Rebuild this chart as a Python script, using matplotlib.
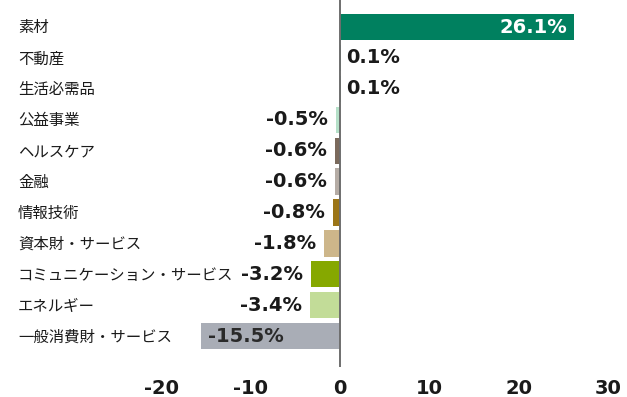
import matplotlib
matplotlib.use("Agg")
import matplotlib.pyplot as plt
from matplotlib.transforms import blended_transform_factory, offset_copy

plt.rcParams['font.family'] = ['Noto Sans CJK JP', 'DejaVu Sans']

sectors = ["素材", "不動産", "生活必需品", "公益事業", "ヘルスケア", "金融", "情報技術",
           "資本財・サービス", "コミュニケーション・サービス", "エネルギー", "一般消費財・サービス"]
returns = [26.1, 0.1, 0.1, -0.5, -0.6, -0.6, -0.8, -1.8, -3.2, -3.4, -15.5]
colors = ["#00805f", "#1f7a55", "#3f8a62", "#b5e0c8", "#7b6a5c", "#b5aca5", "#9b7518",
          "#cdb68a", "#86a800", "#c2dc98", "#a9adb6"]
xticks = [-20, -10, 0, 10, 20, 30]

W, H = 627, 397
fig = plt.figure(figsize=(W / 100, H / 100), dpi=100)
ax = fig.add_axes([0, 30 / H, 1, 367 / H])

ypos = list(range(len(sectors)))
ax.barh(ypos, returns, height=0.85, color=colors, edgecolor="none", zorder=2)
ax.axvline(0, color="#6e6e6e", lw=1.4, zorder=3)

ax.set_xlim(-38.0, 32.07)
ax.set_ylim(11.0, -0.874)
ax.set_yticks([])
ax.set_xticks(xticks)
ax.set_xticklabels([str(t) for t in xticks], fontfamily="DejaVu Sans",
                   fontweight="bold", fontsize=14, color="#1a1a1a")
ax.tick_params(axis="x", length=0, pad=9)
for s in ax.spines.values():
    s.set_visible(False)

# sector names down the left side
lab_tr = blended_transform_factory(fig.transFigure, ax.transData)
for y, name in zip(ypos, sectors):
    ax.text(18 / W, y + 0.03, name, transform=lab_tr, ha="left", va="center",
            fontsize=11.1, color="#1a1a1a")

# value labels
num_kw = dict(fontfamily="DejaVu Sans", fontweight="bold", fontsize=14, va="center")
for y, v in zip(ypos, returns):
    txt = f"{v:.1f}%"
    if v >= 10:
        tr = offset_copy(ax.transData, fig=fig, x=-6, y=0, units="dots")
        ax.text(v, y, txt, transform=tr, ha="right", color="white", **num_kw)
    elif v > 0:
        tr = offset_copy(ax.transData, fig=fig, x=5, y=0, units="dots")
        ax.text(v, y, txt, transform=tr, ha="left", color="#1a1a1a", **num_kw)
    elif v <= -10:
        tr = offset_copy(ax.transData, fig=fig, x=7, y=0, units="dots")
        ax.text(v, y, txt, transform=tr, ha="left", color="#2a2a2a", **num_kw)
    else:
        tr = offset_copy(ax.transData, fig=fig, x=-8, y=0, units="dots")
        ax.text(v, y, txt, transform=tr, ha="right", color="#1a1a1a", **num_kw)

fig.savefig("out.png", dpi=100)
